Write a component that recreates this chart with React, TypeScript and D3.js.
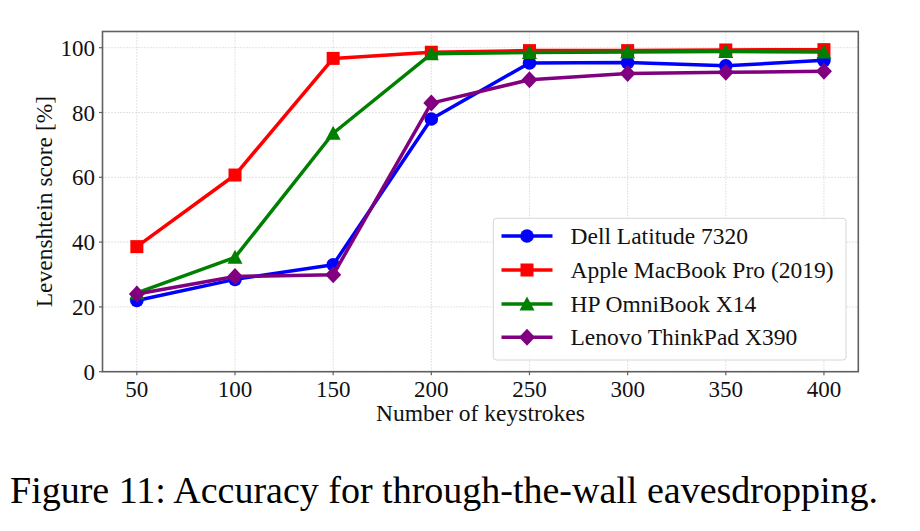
import React from "react";
import * as d3 from "d3";

const keystrokes = [50, 100, 150, 200, 250, 300, 350, 400];
const dell = [22.0, 28.5, 33.0, 78.0, 95.3, 95.4, 94.4, 96.1];
const apple = [38.6, 60.7, 96.7, 98.6, 99.1, 99.1, 99.3, 99.4];
const hp = [24.3, 35.3, 73.6, 98.1, 98.5, 98.7, 98.8, 98.7];
const lenovo = [24.0, 29.4, 29.9, 82.9, 90.1, 92.0, 92.4, 92.7];
const yTicks = [0, 20, 40, 60, 80, 100];
const seriesNames = ["Dell Latitude 7320", "Apple MacBook Pro (2019)", "HP OmniBook X14", "Lenovo ThinkPad X390"];
const seriesColors = ["#0000ff", "#ff0000", "#008000", "#800080"];
const seriesMarkers = ["circle", "square", "triangle", "diamond"];
const seriesValues = [dell, apple, hp, lenovo];

const W = 920;
const H = 531;
const plot = { left: 102.5, top: 31.5, right: 858.3, bottom: 371.7 };
const FONT = "'Liberation Serif', 'Times New Roman', serif";

function Marker({ kind, x, y, color }: { kind: string; x: number; y: number; color: string }) {
  if (kind === "circle") return <circle cx={x} cy={y} r={6.8} fill={color} />;
  if (kind === "square") return <rect x={x - 6.5} y={y - 6.5} width={13} height={13} fill={color} />;
  if (kind === "triangle")
    return <path d={`M${x},${y - 7.5} L${x + 7.5},${y + 6.5} L${x - 7.5},${y + 6.5} Z`} fill={color} />;
  return <path d={`M${x},${y - 8.5} L${x + 8},${y} L${x},${y + 8.5} L${x - 8},${y} Z`} fill={color} />;
}

export default function App() {
  const x = d3.scaleLinear().domain([32.5, 417.5]).range([plot.left, plot.right]);
  const y = d3.scaleLinear().domain([0, 105]).range([plot.bottom, plot.top]);
  const line = d3
    .line<[number, number]>()
    .x((d) => x(d[0]))
    .y((d) => y(d[1]));

  const legend = { x: 493.3, y: 218.3, w: 352.7, h: 141.7 };
  const rowY = [236, 270, 304, 337.3];

  return (
    <div style={{ position: "absolute", left: 0, top: 0, background: "#fff" }}>
      <svg width={W} height={H} viewBox={`0 0 ${W} ${H}`} style={{ display: "block" }}>
        <rect x={0} y={0} width={W} height={H} fill="#fff" />
        {/* grid */}
        <g stroke="#b8b8b8" strokeWidth={0.8} strokeDasharray="1,2">
          {keystrokes.map((k) => (
            <line key={"gx" + k} x1={x(k)} x2={x(k)} y1={plot.top} y2={plot.bottom} />
          ))}
          {yTicks.map((t) => (
            <line key={"gy" + t} x1={plot.left} x2={plot.right} y1={y(t)} y2={y(t)} />
          ))}
        </g>
        {/* series */}
        {seriesValues.map((vals, i) => (
          <g key={seriesNames[i]}>
            <path
              d={line(keystrokes.map((k, j) => [k, vals[j]] as [number, number])) || ""}
              fill="none"
              stroke={seriesColors[i]}
              strokeWidth={3.5}
              strokeLinejoin="round"
            />
            {keystrokes.map((k, j) => (
              <Marker key={k} kind={seriesMarkers[i]} x={x(k)} y={y(vals[j])} color={seriesColors[i]} />
            ))}
          </g>
        ))}
        {/* spines */}
        <rect
          x={plot.left}
          y={plot.top}
          width={plot.right - plot.left}
          height={plot.bottom - plot.top}
          fill="none"
          stroke="#606060"
          strokeWidth={1.6}
        />
        {/* ticks */}
        <g stroke="#606060" strokeWidth={1.2}>
          {keystrokes.map((k) => (
            <line key={"tx" + k} x1={x(k)} x2={x(k)} y1={plot.bottom} y2={plot.bottom + 3.5} />
          ))}
          {yTicks.map((t) => (
            <line key={"ty" + t} x1={plot.left - 3.5} x2={plot.left} y1={y(t)} y2={y(t)} />
          ))}
        </g>
        <g fontFamily={FONT} fontSize={23} fill="#111">
          {keystrokes.map((k) => (
            <text key={"lx" + k} x={x(k)} y={396.5} textAnchor="middle">
              {k}
            </text>
          ))}
          {yTicks.map((t) => (
            <text key={"ly" + t} x={95} y={y(t) + 8} textAnchor="end">
              {t}
            </text>
          ))}
          <text x={(plot.left + plot.right) / 2} y={421} textAnchor="middle" fontSize={23.5}>
            Number of keystrokes
          </text>
          <text
            transform={`translate(52,${(plot.top + plot.bottom) / 2}) rotate(-90)`}
            textAnchor="middle"
            fontSize={23.5}
          >
            Levenshtein score [%]
          </text>
        </g>
        {/* legend */}
        <rect
          x={legend.x}
          y={legend.y}
          width={legend.w}
          height={legend.h}
          rx={3}
          fill="#fff"
          fillOpacity={0.85}
          stroke="#d6d6d6"
          strokeWidth={1}
        />
        {seriesNames.map((name, i) => (
          <g key={"leg" + name}>
            <line x1={501.5} x2={552.5} y1={rowY[i]} y2={rowY[i]} stroke={seriesColors[i]} strokeWidth={3.5} />
            <Marker kind={seriesMarkers[i]} x={527} y={rowY[i]} color={seriesColors[i]} />
            <text x={570.5} y={rowY[i] + 8} fontFamily={FONT} fontSize={23.5} fill="#111">
              {name}
            </text>
          </g>
        ))}
        {/* caption */}
        <text
          x={10}
          y={502.5}
          fontFamily={FONT}
          fontSize={37}
          fill="#000"
          textLength={868}
          lengthAdjust="spacingAndGlyphs"
        >
          Figure 11: Accuracy for through-the-wall eavesdropping.
        </text>
      </svg>
    </div>
  );
}
